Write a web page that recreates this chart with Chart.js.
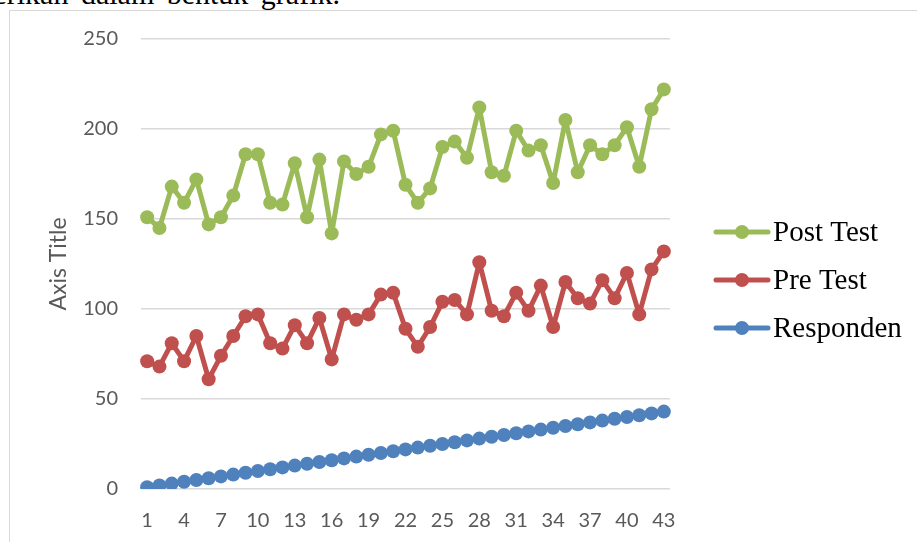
<!DOCTYPE html>
<html>
<head>
<meta charset="utf-8">
<script src="https://cdn.jsdelivr.net/npm/chart.js@4.4.1/dist/chart.umd.min.js"></script>
<style>
  html, body { margin: 0; padding: 0; background: #fff; }
  body { width: 917px; height: 542px; position: relative; overflow: hidden; }
  .teks { position: absolute; right: 577px; top: -21px; font: 30px/1 "Liberation Serif", "Times New Roman", serif; word-spacing: 5px; color: #000; white-space: nowrap; }
  .bingkai { position: absolute; left: 9px; top: 10px; width: 950px; height: 600px; border-left: 1px solid #d9d9d9; border-top: 1px solid #d9d9d9; }
  #grafik { position: absolute; left: 0; top: 0; }
</style>
</head>
<body>
<div class="teks">diberikan dalam bentuk grafik.</div>
<div class="bingkai"></div>
<canvas id="grafik" width="917" height="542"></canvas>
<script>
// Data
const responden = ['1','2','3','4','5','6','7','8','9','10','11','12','13','14','15','16','17','18','19','20','21','22',
  '23','24','25','26','27','28','29','30','31','32','33','34','35','36','37','38','39','40','41','42','43'];
const postTest = [151, 145, 168, 159, 172, 147, 151, 163, 186, 186, 159, 158, 181, 151, 183, 142, 182, 175, 179, 197, 199, 169,
  159, 167, 190, 193, 184, 212, 176, 174, 199, 188, 191, 170, 205, 176, 191, 186, 191, 201, 179, 211, 222];
const preTest = [71, 68, 81, 71, 85, 61, 74, 85, 96, 97, 81, 78, 91, 81, 95, 72, 97, 94, 97, 108, 109, 89,
  79, 90, 104, 105, 97, 126, 99, 96, 109, 99, 113, 90, 115, 106, 103, 116, 106, 120, 97, 122, 132];
const nilaiResponden = [1, 2, 3, 4, 5, 6, 7, 8, 9, 10, 11, 12, 13, 14, 15, 16, 17, 18, 19, 20, 21, 22,
  23, 24, 25, 26, 27, 28, 29, 30, 31, 32, 33, 34, 35, 36, 37, 38, 39, 40, 41, 42, 43];
const tickY = [0, 50, 100, 150, 200, 250];

const warna = { post: '#9BBB59', pre: '#C0504D', resp: '#4F81BD' };

function seri(label, data, c) {
    return {
        label: label,
        data: data,
        borderColor: c,
        backgroundColor: c,
        borderWidth: 5,
        borderJoinStyle: 'round',
        borderCapStyle: 'round',
        pointRadius: 7,
        pointHoverRadius: 7,
        pointBorderWidth: 0,
        tension: 0
    };
}

// legenda di kanan, garis + titik seperti Excel
const legendaKanan = {
    id: 'legendaKanan',
    afterDraw(chart) {
        const ctx = chart.ctx;
        ctx.save();
        chart.data.datasets.forEach((ds, i) => {
            const y = 232 + i * 48;
            ctx.strokeStyle = ds.borderColor;
            ctx.lineWidth = 5;
            ctx.lineCap = 'round';
            ctx.beginPath();
            ctx.moveTo(716, y);
            ctx.lineTo(768, y);
            ctx.stroke();
            ctx.fillStyle = ds.borderColor;
            ctx.beginPath();
            ctx.arc(742, y, 7, 0, Math.PI * 2);
            ctx.fill();
            ctx.fillStyle = '#000';
            ctx.font = '29px "Liberation Serif", "Times New Roman", serif';
            ctx.textBaseline = 'middle';
            ctx.textAlign = 'left';
            ctx.fillText(ds.label, 773, y + 1);
        });
        ctx.restore();
    }
};

new Chart(document.getElementById('grafik'), {
    type: 'line',
    data: {
        labels: responden,
        datasets: [
            seri('Post Test', postTest, warna.post),
            seri('Pre Test', preTest, warna.pre),
            seri('Responden', nilaiResponden, warna.resp)
        ]
    },
    options: {
        responsive: false,
        animation: false,
        events: [],
        layout: { padding: { left: 0, top: 39, right: 247, bottom: 0 } },
        plugins: { legend: { display: false }, tooltip: { enabled: false } },
        scales: {
            x: {
                offset: true,
                afterFit: s => { s.height = 53; },
                grid: { display: false, drawTicks: false },
                border: { display: false },
                ticks: {
                    autoSkip: false,
                    maxRotation: 0,
                    padding: 20,
                    color: '#595959',
                    font: { family: 'Lato', size: 20 },
                    callback: function(v, i) { return i % 3 === 0 ? this.getLabelForValue(v) : ''; }
                }
            },
            y: {
                min: 0,
                max: 250,
                afterFit: s => { s.width = 141; },
                afterBuildTicks: s => { s.ticks = tickY.map(v => ({ value: v })); },
                grid: { color: '#d9d9d9', lineWidth: 1.5, drawTicks: false },
                border: { display: false },
                ticks: { padding: 23, color: '#595959', font: { family: 'Lato', size: 20 } },
                title: { display: true, text: 'Axis Title', color: '#595959', font: { family: 'Lato', size: 23 }, padding: { top: 45, bottom: 0 } }
            }
        }
    },
    plugins: [legendaKanan]
});
</script>
</body>
</html>
